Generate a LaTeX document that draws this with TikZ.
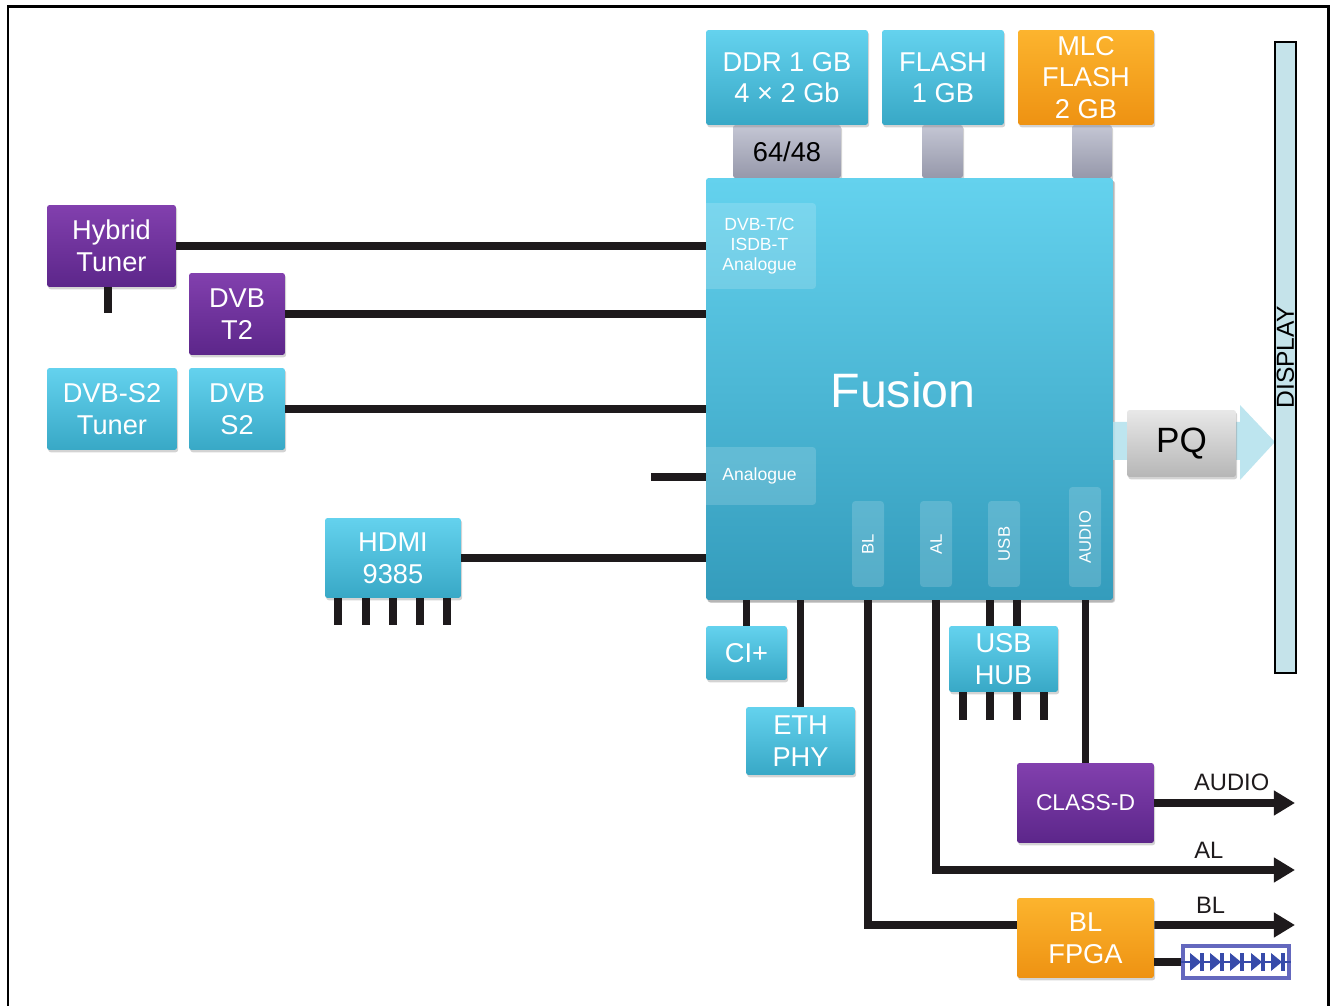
\documentclass[tikz,border=0pt]{standalone}
\usepackage{fontspec}
\setmainfont{Liberation Sans}
\usetikzlibrary{arrows.meta,shadows}
\definecolor{chipT}{RGB}{100,210,238}
\definecolor{chipB}{RGB}{56,168,198}
\definecolor{fusB}{RGB}{52,156,188}
\definecolor{purT}{RGB}{130,64,174}
\definecolor{purB}{RGB}{92,38,138}
\definecolor{orgT}{RGB}{252,180,46}
\definecolor{orgB}{RGB}{238,146,18}
\definecolor{conT}{RGB}{196,198,212}
\definecolor{conB}{RGB}{150,152,170}
\definecolor{pqT}{RGB}{232,232,232}
\definecolor{pqB}{RGB}{182,182,182}
\definecolor{dispC}{RGB}{197,227,234}
\definecolor{bandC}{RGB}{178,224,236}
\definecolor{ledC}{RGB}{100,104,190}
\definecolor{ledD}{RGB}{55,75,170}
\definecolor{wireC}{RGB}{30,26,28}

\begin{document}
\begin{tikzpicture}[x=0.02cm,y=-0.02cm,
  blk/.style={rounded corners=1.5pt,align=center,text=white,inner sep=0pt,
    font=\fontsize{15.5}{18}\selectfont,
    drop shadow={shadow xshift=.7pt,shadow yshift=-1.3pt,opacity=.35}},
  cy/.style={blk,top color=chipT,bottom color=chipB},
  pu/.style={blk,top color=purT,bottom color=purB},
  og/.style={blk,top color=orgT,bottom color=orgB},
  mcon/.style={blk,top color=conT,bottom color=conB,text=black},
  port/.style={rounded corners=2pt,fill=white,fill opacity=.16,text opacity=1,
    text=white,inner sep=0pt,align=center},
  vport/.style={port,rotate=90,minimum height=.64cm,font=\fontsize{9.5}{11}\selectfont},
  wire/.style={line width=4.5pt,wireC},
  outw/.style={wire,-{Triangle[length=12pt,width=13.5pt]}},
  lbl/.style={font=\fontsize{13.5}{16}\selectfont,inner sep=4.5pt}]
\useasboundingbox (0,0) rectangle (1333,1006);
% frame
\draw[line width=1.7pt] (8,1012) -- (8,7) -- (1328,7) -- (1328,1012);

% memories and their buses
\node[mcon,minimum width=2.16cm,minimum height=1.06cm] (ddrc) at (787,151.5) {64/48};
\node[mcon,minimum width=.82cm,minimum height=1.06cm] (flc) at (942.5,151.5) {};
\node[mcon,minimum width=.8cm,minimum height=1.06cm] (mlcc) at (1092,151.5) {};
\node[cy,minimum width=3.24cm,minimum height=1.9cm] (ddr) at (787,77.5) {DDR 1 GB\\4 × 2 Gb};
\node[cy,minimum width=2.44cm,minimum height=1.9cm] (fl) at (943,77.5) {FLASH\\1 GB};
\node[og,minimum width=2.72cm,minimum height=1.9cm] (mlc) at (1086,77.5) {MLC\\FLASH\\2 GB};

% SoC
\node[cy,bottom color=fusB,minimum width=8.14cm,minimum height=8.44cm,
  drop shadow={shadow xshift=1.2pt,shadow yshift=-1.6pt,opacity=.35}] (fus) at (909.5,389) {};
\node[text=white,font=\fontsize{27.5}{32}\selectfont] (fustxt) at (903,390) {Fusion};
\node[port,minimum width=2.26cm,minimum height=1.72cm,font=\fontsize{10}{11.3}\selectfont] (tin) at (759.5,246) {DVB-T/C\\ISDB-T\\Analogue};
\node[port,minimum width=2.26cm,minimum height=1.16cm,font=\fontsize{10}{11.3}\selectfont] (ain) at (759.5,476) {Analogue};
\node[vport,minimum width=1.72cm] (blp) at (868,544) {BL};
\node[vport,minimum width=1.72cm] (alp) at (936,544) {AL};
\node[vport,minimum width=1.72cm] (usbp) at (1004,544) {USB};
\node[vport,minimum width=2cm] (audp) at (1085,537) {AUDIO};

% front ends
\node[pu,minimum width=2.58cm,minimum height=1.64cm] (hyb) at (111.5,246) {Hybrid\\Tuner};
\node[pu,minimum width=1.92cm,minimum height=1.64cm] (t2) at (237,314) {DVB\\T2};
\node[cy,minimum width=2.6cm,minimum height=1.64cm] (s2t) at (112,409) {DVB-S2\\Tuner};
\node[cy,minimum width=1.92cm,minimum height=1.64cm] (s2) at (237,409) {DVB\\S2};
\node[cy,minimum width=2.72cm,minimum height=1.6cm] (hdmi) at (393,558) {HDMI\\9385};
\coordinate (hybend) at (108,313);
\coordinate (anain) at (651,477);
\draw[wire] (hyb.east) -- (hyb.east -| fus.west);
\draw[wire] (hybend |- hyb.south) -- (hybend);
\draw[wire] (t2.east) -- (t2.east -| fus.west);
\draw[wire] (s2.east) -- (s2.east -| fus.west);
\draw[wire] (anain) -- (anain -| fus.west);
\draw[wire] (hdmi.east) -- (hdmi.east -| fus.west);
\foreach \px in {338,366,393,420,447}
  \draw[wire] (\px,598) -- (\px,625);

% back ends
\node[cy,minimum width=1.62cm,minimum height=1.08cm] (ci) at (746.5,653) {CI+};
\node[cy,minimum width=2.18cm,minimum height=1.36cm] (eth) at (800.5,741) {ETH\\PHY};
\node[cy,minimum width=2.18cm,minimum height=1.32cm] (hub) at (1003.5,659) {USB\\HUB};
\node[pu,minimum width=2.74cm,minimum height=1.6cm,font=\fontsize{13}{16}\selectfont] (cls) at (1085.5,803) {CLASS-D};
\node[og,minimum width=2.74cm,minimum height=1.6cm] (fpga) at (1085.5,938) {BL\\FPGA};
\coordinate (audend) at (1295,803);
\coordinate (alend) at (1295,870);
\coordinate (blend) at (1295,925);
\draw[wire] (ci.north) -- (ci.north |- fus.south);
\draw[wire] (eth.north) -- (eth.north |- fus.south);
\draw[wire] (blp |- fus.south) -- ([yshift=.26cm]fpga.west -| blp) -- ([yshift=.26cm]fpga.west);
\draw[outw] (alp |- fus.south) -- (alp |- alend) -- node[lbl,above,pos=.76]{AL} (alend);
\foreach \dx in {-.27,.27}
  \draw[wire] ([xshift=\dx cm]hub.north) -- ([xshift=\dx cm]hub.north |- fus.south);
\foreach \dx in {-.81,-.27,.27,.81}
  \draw[wire] ([xshift=\dx cm]hub.south) -- ++(0,28);
\draw[wire] (cls.north) -- (cls.north |- fus.south);
\draw[outw] (cls.east) -- node[lbl,above,pos=.55]{AUDIO} (audend);
\draw[outw] ([yshift=.26cm]fpga.east) -- node[lbl,above,pos=.4]{BL} (blend);

% LED strip
\node[draw=ledC,line width=1.8pt,fill=white,minimum width=2.12cm,minimum height=.64cm,inner sep=0pt] (led) at (1236,962) {};
\draw[wire] (fpga.east |- led.west) -- (led.west);
\draw[ledD,line width=.9pt] (led.west) -- (led.east);
\foreach \lx in {1197,1217,1237,1258,1278} {
  \fill[ledD] (\lx-7,953) -- (\lx+4,962) -- (\lx-7,971) -- cycle;
  \fill[ledD] (\lx+3,953) rectangle (\lx+7,971);
}

% picture path to the display
\fill[bandC,opacity=.85] (1113,422) -- (1240,422) -- (1240,405) -- (1275,442)
  -- (1240,480) -- (1240,460) -- (1113,460) -- cycle;
\node[blk,top color=pqT,bottom color=pqB,text=black,minimum width=2.18cm,minimum height=1.34cm,
  font=\fontsize{20}{24}\selectfont] (pq) at (1181.5,443.5) {PQ};
\node[draw=black,line width=.8pt,fill=dispC,rotate=90,minimum width=12.62cm,minimum height=.42cm,
  inner sep=0pt,font=\fontsize{14}{16}\selectfont] (disp) at (1285.5,357.5) {DISPLAY};
\end{tikzpicture}
\end{document}
